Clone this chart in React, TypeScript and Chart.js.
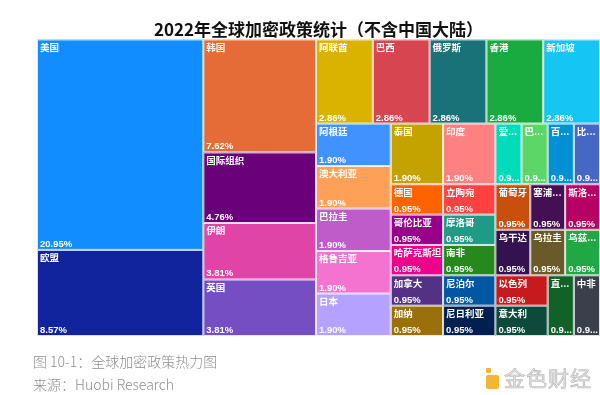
import React, { useEffect, useRef } from 'react';
import { Chart, registerables } from 'chart.js';

Chart.register(...registerables);

const TITLE = '2022年全球加密政策统计（不含中国大陆）';
const CAPTION = '图 10-1：全球加密政策热力图';
const SOURCE = '来源：Huobi Research';

const countries = [
  '美国', '欧盟', '韩国', '国际组织', '伊朗', '英国',
  '阿联酋', '巴西', '俄罗斯', '香港', '新加坡',
  '阿根廷', '澳大利亚', '巴拉圭', '格鲁吉亚', '日本', '泰国', '印度',
  '爱尔兰', '巴哈马', '百慕大', '比利时', '德国', '哥伦比亚', '哈萨克斯坦', '加拿大',
  '加纳', '立陶宛', '摩洛哥', '南非', '尼泊尔', '尼日利亚', '葡萄牙', '塞浦路斯',
  '斯洛文尼亚', '乌干达', '乌拉圭', '乌兹别克斯坦', '以色列', '意大利', '直布罗陀', '中非',
];

const shares = [
  20.95, 8.57, 7.62, 4.76, 3.81, 3.81,
  2.86, 2.86, 2.86, 2.86, 2.86,
  1.90, 1.90, 1.90, 1.90, 1.90, 1.90, 1.90,
  0.95, 0.95, 0.95, 0.95, 0.95, 0.95, 0.95, 0.95,
  0.95, 0.95, 0.95, 0.95, 0.95, 0.95, 0.95, 0.95,
  0.95, 0.95, 0.95, 0.95, 0.95, 0.95, 0.95, 0.95,
];

const colors = [
  '#118DFF', '#12239E', '#E66C37', '#6B007B', '#E044A7', '#744EC2',
  '#D9B300', '#D64550', '#197278', '#1AAB40', '#15C6F4',
  '#4092FF', '#FFA058', '#BE5DC9', '#F472D0', '#B5A1FF', '#C4A200', '#FF8080',
  '#00DBBC', '#5BD667', '#0091D5', '#4668C5', '#FF6300', '#99008A', '#EC008C', '#533285',
  '#99700A', '#FF4141', '#1F9A85', '#25891C', '#0057A2', '#002050', '#C94F0F', '#450F54',
  '#B60064', '#34124F', '#6A5A29', '#20A845', '#C51A1E', '#0E4A3C', '#126228', '#3B3F4C',
];

// Nesting of the treemap (h = side by side, v = stacked); sizes come from shares
type TNode = string | { d: 'h' | 'v'; c: TNode[] };
const treeLayout: TNode = {
  d: 'h',
  c: [
    { d: 'v', c: ['美国', '欧盟'] },
    { d: 'v', c: ['韩国', '国际组织', '伊朗', '英国'] },
    {
      d: 'v',
      c: [
        { d: 'h', c: ['阿联酋', '巴西', '俄罗斯', '香港', '新加坡'] },
        {
          d: 'h',
          c: [
            { d: 'v', c: ['阿根廷', '澳大利亚', '巴拉圭', '格鲁吉亚', '日本'] },
            {
              d: 'v',
              c: [
                { d: 'h', c: ['泰国', '印度'] },
                { d: 'h', c: ['德国', '立陶宛'] },
                { d: 'h', c: ['哥伦比亚', '摩洛哥'] },
                { d: 'h', c: ['哈萨克斯坦', '南非'] },
                { d: 'h', c: ['加拿大', '尼泊尔'] },
                { d: 'h', c: ['加纳', '尼日利亚'] },
              ],
            },
            {
              d: 'v',
              c: [
                { d: 'h', c: ['爱尔兰', '巴哈马', '百慕大', '比利时'] },
                { d: 'h', c: ['葡萄牙', '塞浦路斯', '斯洛文尼亚'] },
                { d: 'h', c: ['乌干达', '乌拉圭', '乌兹别克斯坦'] },
                { d: 'h', c: [{ d: 'v', c: ['以色列', '意大利'] }, '直布罗陀', '中非'] },
              ],
            },
          ],
        },
      ],
    },
  ],
};

type Cell = { name: string; x0: number; x1: number; y0: number; y1: number };

function nodeSum(n: TNode): number {
  if (typeof n === 'string') return shares[countries.indexOf(n)];
  return n.c.reduce((s, k) => s + nodeSum(k), 0);
}

function layoutTree(n: TNode, x0: number, x1: number, y0: number, y1: number, out: Cell[]) {
  if (typeof n === 'string') {
    out.push({ name: n, x0, x1, y0, y1 });
    return;
  }
  const total = nodeSum(n);
  let cur = n.d === 'h' ? x0 : y0;
  for (const k of n.c) {
    const frac = nodeSum(k) / total;
    if (n.d === 'h') {
      const w = (x1 - x0) * frac;
      layoutTree(k, cur, cur + w, y0, y1, out);
      cur += w;
    } else {
      const h = (y1 - y0) * frac;
      layoutTree(k, x0, x1, cur, cur + h, out);
      cur += h;
    }
  }
}

function fitText(ctx: CanvasRenderingContext2D, text: string, maxW: number) {
  if (ctx.measureText(text).width <= maxW) return text;
  for (let i = text.length - 1; i > 0; i--) {
    const t = text.slice(0, i) + '...';
    if (ctx.measureText(t).width <= maxW) return t;
  }
  return text.slice(0, 1) + '...';
}

const treemapPlugin = {
  id: 'treemapCells',
  afterDatasetsDraw(chart: any) {
    const { ctx, scales } = chart;
    const xs = scales.x;
    const ys = scales.y;
    const cells: Cell[] = [];
    layoutTree(treeLayout, xs.min, xs.max, ys.min, ys.max, cells);
    ctx.save();
    for (const c of cells) {
      const i = countries.indexOf(c.name);
      const px0 = xs.getPixelForValue(c.x0);
      const px1 = xs.getPixelForValue(c.x1);
      const py0 = ys.getPixelForValue(c.y0);
      const py1 = ys.getPixelForValue(c.y1);
      const w = px1 - px0;
      const h = py1 - py0;
      ctx.fillStyle = colors[i];
      ctx.fillRect(px0, py0, w, h);
      ctx.strokeStyle = 'rgba(255,255,255,0.85)';
      ctx.lineWidth = 1;
      ctx.strokeRect(px0 + 0.5, py0 + 0.5, w - 1, h - 1);

      ctx.save();
      ctx.beginPath();
      ctx.rect(px0, py0, w, h);
      ctx.clip();
      ctx.fillStyle = '#ffffff';
      ctx.textAlign = 'left';
      const avail = w - 4;
      ctx.font = 'bold 9.5px "Noto Sans CJK SC", sans-serif';
      ctx.textBaseline = 'top';
      ctx.fillText(fitText(ctx, c.name, avail), px0 + 3, py0 + 3);
      ctx.font = 'bold 9.5px "Liberation Sans", Arial, sans-serif';
      ctx.textBaseline = 'alphabetic';
      ctx.fillText(fitText(ctx, shares[i].toFixed(2) + '%', avail), px0 + 3, py1 - 3);
      ctx.restore();
    }
    ctx.restore();
  },
};

export default function App() {
  const canvasRef = useRef<HTMLCanvasElement | null>(null);

  useEffect(() => {
    document.body.style.margin = '0';
    const canvas = canvasRef.current;
    if (!canvas) return;
    const chart = new Chart(canvas, {
      type: 'scatter',
      data: { datasets: [{ data: [], pointRadius: 0 }] },
      options: {
        animation: false,
        responsive: false,
        events: [],
        layout: { padding: { left: 37, right: 0, top: 0, bottom: 59 } },
        scales: {
          x: { type: 'linear', min: 0, max: 100, display: false },
          y: { type: 'linear', min: 0, max: 100, reverse: true, display: false },
        },
        plugins: {
          legend: { display: false },
          tooltip: { enabled: false },
          title: {
            display: true,
            text: TITLE,
            color: '#111111',
            font: { size: 17, weight: 'bold', family: '"Noto Sans CJK SC", sans-serif' },
            padding: { top: 19, bottom: 0 },
          },
        },
      },
      plugins: [treemapPlugin],
    } as any);
    return () => chart.destroy();
  }, []);

  const capStyle: React.CSSProperties = {
    position: 'absolute',
    left: 33,
    fontFamily: '"Noto Sans CJK SC", sans-serif',
    fontSize: 14,
    color: '#8e8e8e',
    fontWeight: 300,
    whiteSpace: 'nowrap',
    lineHeight: '16px',
  };

  return (
    <div style={{ position: 'absolute', left: 0, top: 0, width: 600, height: 395, background: '#ffffff', overflow: 'hidden' }}>
      <canvas ref={canvasRef} width={600} height={395} style={{ position: 'absolute', left: 0, top: 0, width: 600, height: 395 }} />
      <div style={{ ...capStyle, top: 353 }}>{CAPTION}</div>
      <div style={{ ...capStyle, top: 376 }}>{SOURCE}</div>
      <div style={{ position: 'absolute', left: 486, top: 368, width: 5, height: 5, background: '#F2B632', borderRadius: 1 }} />
      <div style={{ position: 'absolute', left: 486, top: 375, width: 13, height: 14, background: '#F2B632', borderRadius: 2 }} />
      <div
        style={{
          position: 'absolute',
          left: 504,
          top: 363,
          fontFamily: '"Noto Sans CJK SC", sans-serif',
          fontSize: 21,
          color: '#e2e2e2',
          WebkitTextStroke: '0.6px #b5b5b5',
          whiteSpace: 'nowrap',
          lineHeight: '28px',
          letterSpacing: 1,
        }}
      >
        金色财经
      </div>
    </div>
  );
}
